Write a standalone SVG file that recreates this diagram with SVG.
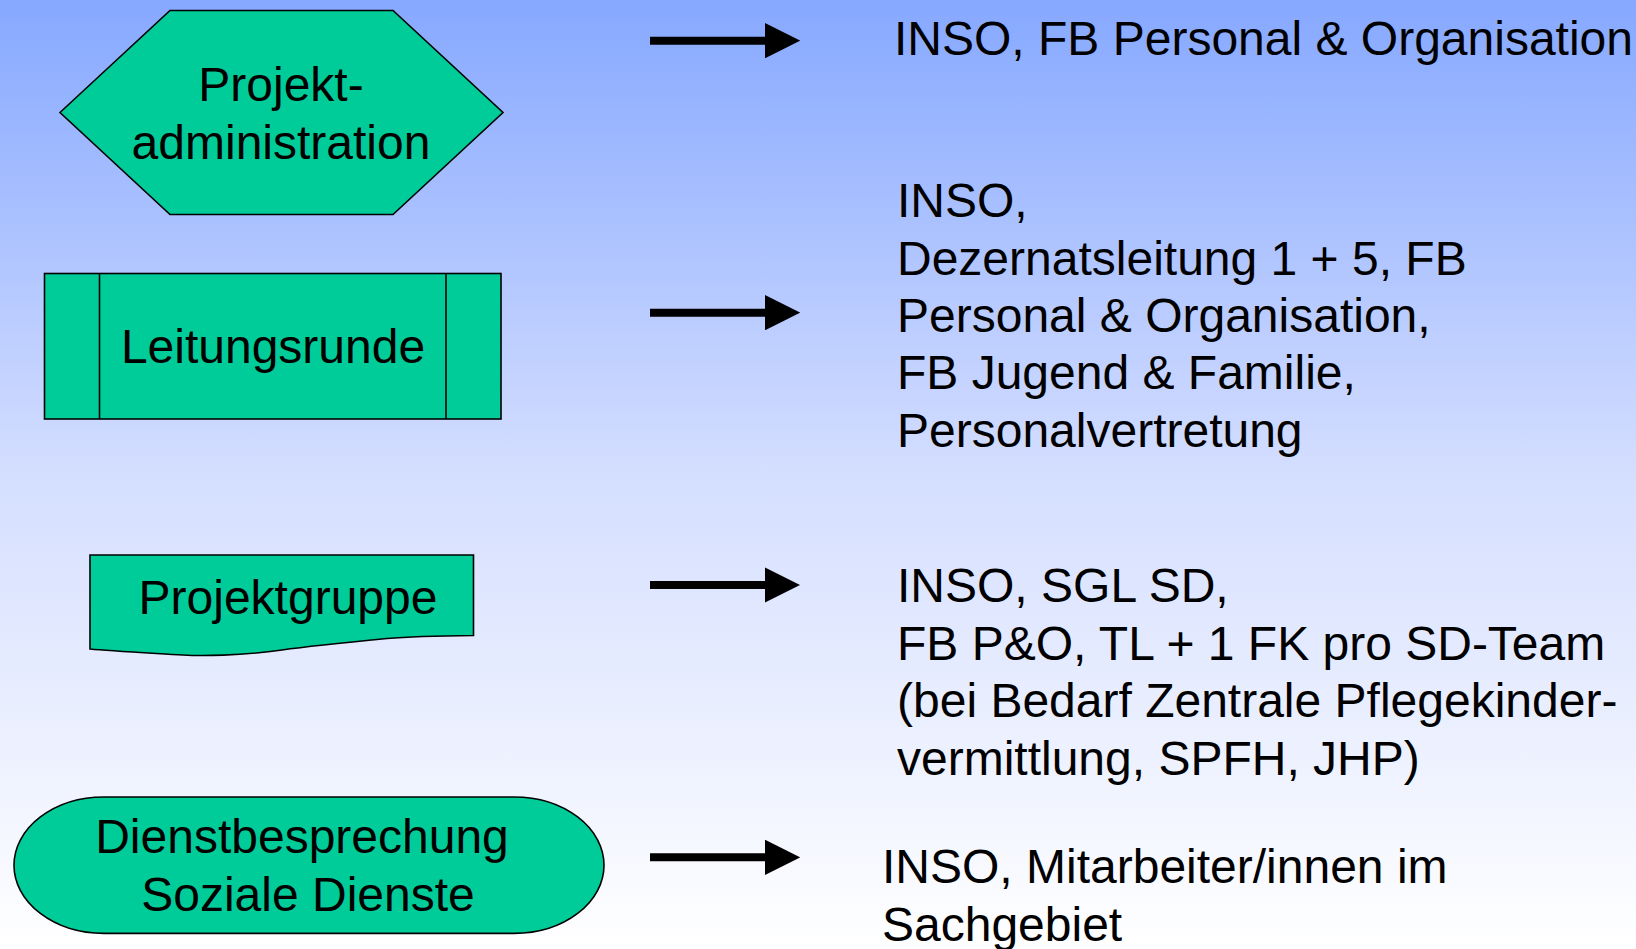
<svg xmlns="http://www.w3.org/2000/svg" width="1636" height="949" viewBox="0 0 1636 949">
<defs>
<linearGradient id="bg" x1="0" y1="0" x2="0" y2="1">
<stop offset="0" stop-color="#86A8FF"/>
<stop offset="0.5" stop-color="#D4DEFF"/>
<stop offset="1" stop-color="#FFFFFF"/>
</linearGradient>
<marker id="ah" markerWidth="4.4" markerHeight="4.4" refX="0" refY="2.2" orient="auto" markerUnits="strokeWidth">
<path d="M0,0 L4.4,2.2 L0,4.4 Z" fill="#000"/>
</marker>
<style>
.shape{fill:#00CC99;stroke:#000;stroke-width:1.6}
.lbl{font-family:"Liberation Sans",Arial,sans-serif;font-size:48px;fill:#000;text-anchor:middle}
.txt{font-family:"Liberation Sans",Arial,sans-serif;font-size:48px;fill:#000}
.arr{stroke:#000;stroke-width:8;fill:none}
</style>
</defs>
<rect x="0" y="0" width="1636" height="949" fill="url(#bg)"/>
<g id="node-projektadministration">
<polygon class="shape" points="60,112.5 170,10.5 393,10.5 503,112.5 393,214.5 170,214.5"/>
<text class="lbl" x="281" y="101">Projekt-</text>
<text class="lbl" x="281" y="159">administration</text>
</g>
<g id="node-leitungsrunde">
<rect class="shape" x="44.5" y="273.5" width="456.5" height="145.5"/>
<line class="shape" x1="99.5" y1="273.5" x2="99.5" y2="419"/>
<line class="shape" x1="446" y1="273.5" x2="446" y2="419"/>
<text class="lbl" x="273" y="363">Leitungsrunde</text>
</g>
<g id="node-projektgruppe">
<path class="shape" d="M90,555 L473.5,555 L473.5,635.5 C430,636 405,637 387,638.5 C340,643 310,646 282,650 C240,656 200,656 183,655 C150,653 110,651 90,649 Z"/>
<text class="lbl" x="288" y="614">Projektgruppe</text>
</g>
<g id="node-dienstbesprechung">
<path class="shape" d="M104,797 L514,797 A90,68.2 0 0 1 514,933.4 L104,933.4 A90,68.2 0 0 1 104,797 Z"/>
<text class="lbl" x="302" y="853">Dienstbesprechung</text>
<text class="lbl" x="308" y="911">Soziale Dienste</text>
</g>
<g id="connectors">
<line class="arr" x1="650" y1="40.7" x2="765" y2="40.7" marker-end="url(#ah)"/>
<line class="arr" x1="650" y1="312.7" x2="765" y2="312.7" marker-end="url(#ah)"/>
<line class="arr" x1="650" y1="585" x2="765" y2="585" marker-end="url(#ah)"/>
<line class="arr" x1="650" y1="857.3" x2="765" y2="857.3" marker-end="url(#ah)"/>
</g>
<g id="text-1">
<text class="txt" x="894" y="55">INSO, FB Personal &amp; Organisation</text>
</g>
<g id="text-2">
<text class="txt" x="897" y="217">INSO,</text>
<text class="txt" x="897" y="275">Dezernatsleitung 1 + 5, FB</text>
<text class="txt" x="897" y="332">Personal &amp; Organisation,</text>
<text class="txt" x="897" y="389">FB Jugend &amp; Familie,</text>
<text class="txt" x="897" y="446.5">Personalvertretung</text>
</g>
<g id="text-3">
<text class="txt" x="897" y="601.5">INSO, SGL SD,</text>
<text class="txt" x="897" y="659.5">FB P&amp;O, TL + 1 FK pro SD-Team</text>
<text class="txt" x="897" y="717">(bei Bedarf Zentrale Pflegekinder-</text>
<text class="txt" x="897" y="774.5">vermittlung, SPFH, JHP)</text>
</g>
<g id="text-4">
<text class="txt" x="882" y="883">INSO, Mitarbeiter/innen im</text>
<text class="txt" x="882" y="941">Sachgebiet</text>
</g>
</svg>
